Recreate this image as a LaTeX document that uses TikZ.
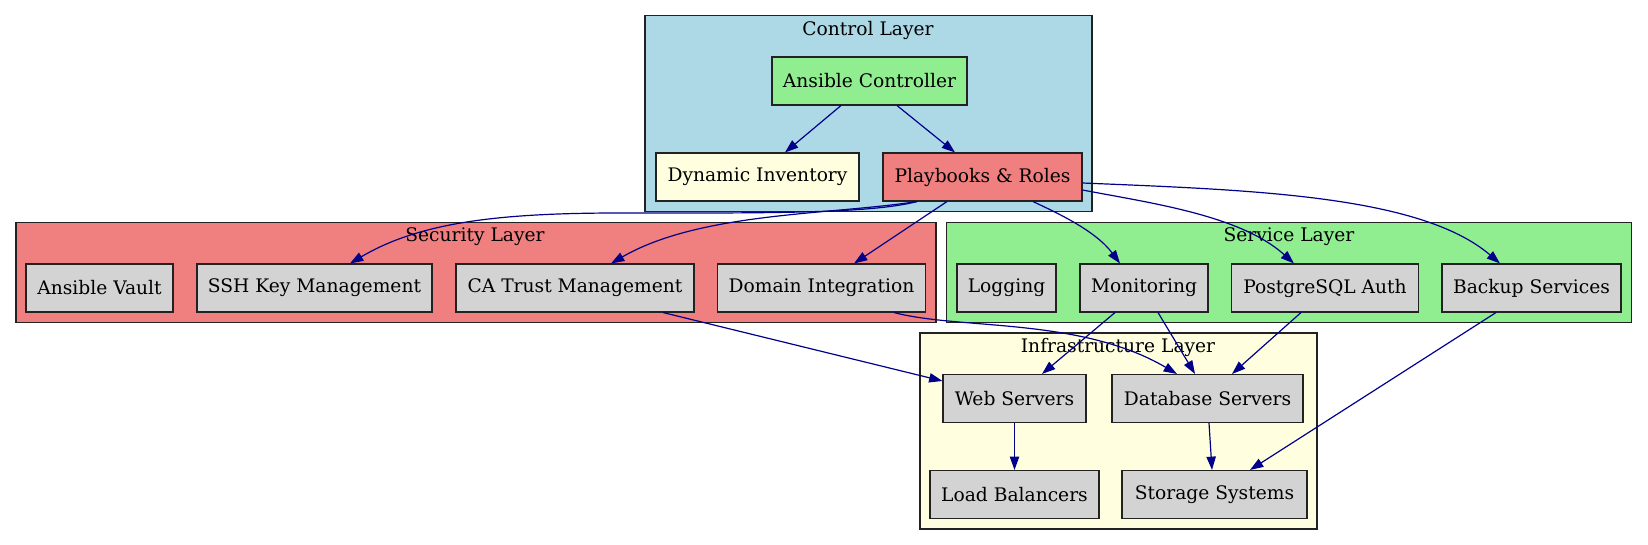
\documentclass[tikz,border=0pt]{standalone}
\usepackage{fontspec}
\setmainfont{DejaVu Serif}
\usetikzlibrary{arrows.meta,calc}
\definecolor{lblue}{HTML}{ADD8E6}
\definecolor{lcoral}{HTML}{F08080}
\definecolor{lgreen}{HTML}{90EE90}
\definecolor{lyellow}{HTML}{FFFFE0}
\definecolor{lgray}{HTML}{D3D3D3}
\definecolor{dblue}{HTML}{00008B}
\definecolor{bord}{HTML}{222222}
\begin{document}
\begin{tikzpicture}[x=0.75pt,y=-0.75pt,
  box/.style={draw=bord,line width=0.8pt,fill=lgray,minimum height=48*0.75pt,inner sep=0pt,font=\fontsize{14}{16}\selectfont},
  bw/.style={minimum width=#1*0.75pt},
  cluster/.style={draw=bord,line width=0.8pt},
  ctitle/.style={font=\fontsize{14}{16}\selectfont,inner sep=0pt},
  edge/.style={draw=dblue,line width=0.9pt,-{Triangle[length=10pt,width=7pt]}}]
\useasboundingbox (0,0) rectangle (1648,545);
% clusters
\draw[cluster,fill=lblue] (645,15.7) rectangle (1092,211.7);
\node[ctitle] (tctrl) at (868,30) {Control Layer};
\draw[cluster,fill=lcoral] (16,222.7) rectangle (936,322.7);
\node[ctitle] (tsec) at (475,237) {Security Layer};
\draw[cluster,fill=lgreen] (946.5,222.7) rectangle (1631.7,322.7);
\node[ctitle] (tsvc) at (1289,237) {Service Layer};
\draw[cluster,fill=lyellow] (920,333) rectangle (1317,529);
\node[ctitle] (tinf) at (1118,347) {Infrastructure Layer};
% nodes
\node[box,bw=195,fill=lgreen] (ctrl) at (869.5,81) {Ansible Controller};
\node[box,bw=203,fill=lyellow] (dyn) at (757.5,177) {Dynamic Inventory};
\node[box,bw=199,fill=lcoral] (play) at (982.5,177) {Playbooks \& Roles};
\node[box,bw=147] (vault) at (99.5,288) {Ansible Vault};
\node[box,bw=235] (ssh) at (314.5,288) {SSH Key Management};
\node[box,bw=238] (ca) at (575,288) {CA Trust Management};
\node[box,bw=208] (dom) at (821.5,288) {Domain Integration};
\node[box,bw=99] (log) at (1006.5,288) {Logging};
\node[box,bw=128] (mon) at (1144,288) {Monitoring};
\node[box,bw=187] (pg) at (1325,288) {PostgreSQL Auth};
\node[box,bw=179] (bak) at (1531.5,288) {Backup Services};
\node[box,bw=143] (web) at (1014.5,398.5) {Web Servers};
\node[box,bw=191] (db) at (1207.5,398.5) {Database Servers};
\node[box,bw=169] (lb) at (1014.5,494.5) {Load Balancers};
\node[box,bw=185] (stor) at (1214.5,494.5) {Storage Systems};
% edges
\draw[edge] ($(ctrl.south)+(-28.5,0)$) -- ($(dyn.north)+(27.5,0)$);
\draw[edge] ($(ctrl.south)+(27.5,0)$) -- ($(play.north)+(-27.5,0)$);
\draw[edge] ($(play.south)+(-65.5,0)$) .. controls (870,214) and (760,213) .. (620,213) .. controls (500,213) and (420,222) .. ($(ssh.north)+(35.5,0)$);
\draw[edge] ($(play.south)+(-65.5,0)$) .. controls (830,215) and (700,212) .. ($(ca.north)+(36,0)$);
\draw[edge] ($(play.south)+(-35.5,0)$) -- ($(dom.north)+(32.5,0)$);
\draw[edge] ($(play.south)+(50.5,0)$) .. controls (1055,212) and (1095,230) .. ($(mon.north)+(-24,0)$);
\draw[edge] ($(play.east)+(0,13)$) .. controls (1150,203) and (1240,215) .. ($(pg.north)+(-31,0)$);
\draw[edge] ($(play.east)+(0,6)$) .. controls (1250,190) and (1420,195) .. ($(bak.north)+(-31.5,0)$);
\draw[edge] ($(mon.south)+(-29,0)$) -- ($(web.north)+(27.5,0)$);
\draw[edge] ($(mon.south)+(14,0)$) -- ($(db.north)+(-12.5,0)$);
\draw[edge] ($(pg.south)+(-24,0)$) -- ($(db.north)+(24.5,0)$);
\draw[edge] ($(bak.south)+(-35.5,0)$) -- ($(stor.north)+(35.5,0)$);
\draw[edge] ($(ca.south)+(88,0)$) -- ($(web.west)+(0,-17.5)$);
\draw[edge] ($(dom.south)+(72.5,0)$) .. controls (960,330) and (1080,317) .. ($(db.north)+(-30.5,0)$);
\draw[edge] (web.south) -- (lb.north);
\draw[edge] ($(db.south)+(1.5,0)$) -- ($(stor.north)+(-2.5,0)$);
\end{tikzpicture}
\end{document}
